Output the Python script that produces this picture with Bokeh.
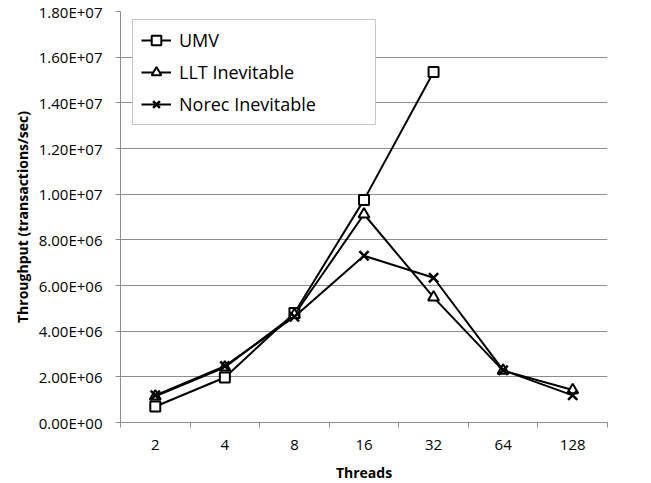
from bokeh.plotting import figure
from bokeh.models import Range1d, FixedTicker, Legend, LegendItem, CustomJSTickFormatter
from bokeh.embed import file_html
from bokeh.resources import INLINE

threads = ["2", "4", "8", "16", "32", "64", "128"]
umv = [0.70e6, 1.97e6, 4.80e6, 9.75e6, 1.535e7]
llt = [1.15e6, 2.42e6, 4.72e6, 9.12e6, 5.48e6, 2.27e6, 1.42e6]
norec = [1.19e6, 2.47e6, 4.63e6, 7.30e6, 6.34e6, 2.29e6, 1.19e6]
y_ticks = [i * 2.0e6 for i in range(10)]

xpos = [i + 0.5 for i in range(len(threads))]

FONT = "Open Sans"
GRID = "#8e8e8e"

p = figure(frame_width=487, frame_height=411, output_backend="svg", toolbar_location=None,
           x_range=Range1d(0, len(threads)), y_range=Range1d(0, 1.8e7),
           min_border_left=120, min_border_right=20, min_border_top=11, min_border_bottom=40)
p.outline_line_color = None
p.background_fill_color = "white"

# axes
p.xaxis.ticker = FixedTicker(ticks=xpos, minor_ticks=list(range(len(threads) + 1)))
p.xaxis.major_label_overrides = {x: t for x, t in zip(xpos, threads)}
p.xaxis.major_tick_out = 0
p.xaxis.major_tick_in = 0
p.xaxis.minor_tick_out = 5
p.xaxis.minor_tick_in = 0
p.xaxis.minor_tick_line_color = GRID
p.xaxis.major_label_standoff = 12
p.xaxis.axis_label = "Threads"
p.xaxis.axis_label_standoff = 10

p.yaxis.ticker = FixedTicker(ticks=y_ticks, minor_ticks=[])
p.yaxis.formatter = CustomJSTickFormatter(code="""
const e = tick === 0 ? 0 : Math.floor(Math.log10(Math.abs(tick)));
const m = tick / Math.pow(10, e);
const es = (e < 10 ? '0' : '') + e;
return m.toFixed(2) + 'E+' + es;
""")
p.yaxis.major_tick_out = 5
p.yaxis.major_tick_in = 0
p.yaxis.minor_tick_out = 0
p.yaxis.major_label_standoff = 13
p.yaxis.axis_label = "Throughput (transactions/sec)"
p.yaxis.axis_label_standoff = 4

for ax in (p.xaxis[0], p.yaxis[0]):
    ax.axis_line_color = GRID
    ax.major_tick_line_color = GRID
    ax.major_label_text_font = FONT
    ax.major_label_text_font_size = "15px"
    ax.major_label_text_color = "black"
    ax.axis_label_text_font = FONT
    ax.axis_label_text_font_size = "14px"
    ax.axis_label_text_font_style = "bold"
    ax.axis_label_text_color = "black"

p.xgrid.grid_line_color = None
p.ygrid.grid_line_color = GRID
p.ygrid.grid_line_width = 1

# series
l1 = p.line(xpos[:len(umv)], umv, line_color="black", line_width=2)
m1 = p.scatter(xpos[:len(umv)], umv, marker="square", size=10, fill_color="white",
               line_color="black", line_width=2)
l2 = p.line(xpos, llt, line_color="black", line_width=2)
m2 = p.scatter(xpos, llt, marker="triangle", size=11, fill_color="white",
               line_color="black", line_width=2)
l3 = p.line(xpos, norec, line_color="black", line_width=2)
m3 = p.scatter(xpos, norec, marker="x", size=13, line_color="black", line_width=2.5)

legend = Legend(items=[
    LegendItem(label="UMV", renderers=[l1, m1]),
    LegendItem(label="LLT Inevitable", renderers=[l2, m2]),
    LegendItem(label="Norec Inevitable", renderers=[l3, m3]),
], location=(12, 297))
legend.label_text_font = FONT
legend.label_text_font_size = "18px"
legend.label_text_color = "black"
legend.glyph_width = 30
legend.glyph_height = 24
legend.label_height = 24
legend.label_standoff = 8
legend.spacing = 8
legend.padding = 8
legend.margin = 0
legend.label_width = 188
legend.border_line_color = GRID
legend.border_line_width = 1
legend.background_fill_color = "white"
legend.background_fill_alpha = 1
p.add_layout(legend, "center")

open("out.html", "w").write(file_html(p, INLINE))
